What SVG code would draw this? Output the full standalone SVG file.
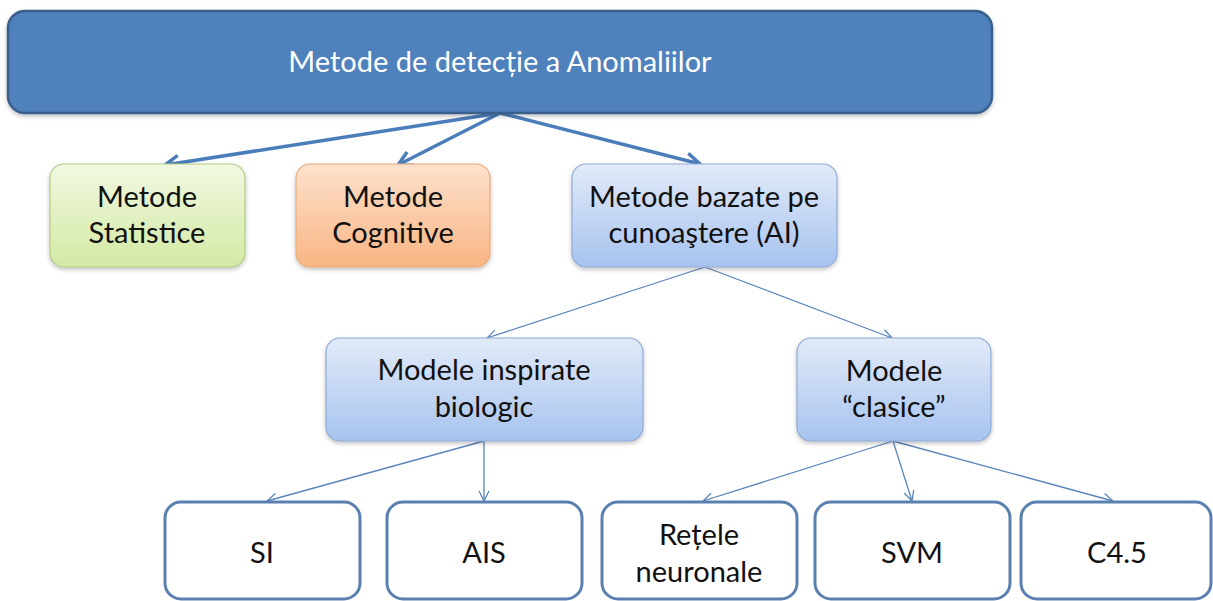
<svg xmlns="http://www.w3.org/2000/svg" width="1213" height="601" viewBox="0 0 1213 601">
<defs>
<style>
text{font-family:Lato,"Open Sans","Liberation Sans",sans-serif;fill:#111;text-anchor:middle}
.t{font-size:29px}
.title{font-size:29px;fill:#fff}
.thick{stroke:#4a7dba;stroke-width:3.5;fill:none;marker-end:url(#ah)}
.thin{stroke:#5a84bb;stroke-width:1.3;fill:none;marker-end:url(#ahs)}
.leaf{fill:#fff;stroke:#5a80b0;stroke-width:3}
</style>
<linearGradient id="gG" x1="0" y1="0" x2="0" y2="1"><stop offset="0" stop-color="#f1f8e2"/><stop offset="1" stop-color="#d3e9a3"/></linearGradient>
<linearGradient id="gO" x1="0" y1="0" x2="0" y2="1"><stop offset="0" stop-color="#fde1cc"/><stop offset="1" stop-color="#f8b583"/></linearGradient>
<linearGradient id="gB" x1="0" y1="0" x2="0" y2="1"><stop offset="0" stop-color="#e2eaf8"/><stop offset="1" stop-color="#a7c3ef"/></linearGradient>
<filter id="sh" x="-10%" y="-10%" width="120%" height="130%"><feDropShadow dx="0" dy="2" stdDeviation="2" flood-color="#000" flood-opacity="0.25"/></filter>
<marker id="ah" markerUnits="userSpaceOnUse" markerWidth="20" markerHeight="20" viewBox="0 0 20 20" refX="17" refY="10" orient="auto"><path d="M3,2.5 L17,10 L3,17.5" fill="none" stroke="#4a7dba" stroke-width="3.5" stroke-linejoin="miter"/></marker>
<marker id="ahs" markerUnits="userSpaceOnUse" markerWidth="14" markerHeight="14" viewBox="0 0 14 14" refX="12" refY="7" orient="auto"><path d="M2,2 L12,7 L2,12" fill="none" stroke="#5a84bb" stroke-width="1.3"/></marker>
</defs>
<rect width="1213" height="601" fill="#fff"/>
<g id="connectors">
<line class="thick" x1="500" y1="113" x2="165" y2="165"/>
<line class="thick" x1="500" y1="113" x2="398" y2="165"/>
<line class="thick" x1="500" y1="113" x2="700" y2="164"/>
<line class="thin" x1="705" y1="267" x2="487" y2="338"/>
<line class="thin" x1="705" y1="267" x2="892" y2="338"/>
<line class="thin" x1="484" y1="441" x2="267" y2="501"/>
<line class="thin" x1="484" y1="441" x2="484" y2="501"/>
<line class="thin" x1="893" y1="441" x2="703" y2="501"/>
<line class="thin" x1="893" y1="441" x2="912" y2="501"/>
<line class="thin" x1="893" y1="441" x2="1113" y2="501"/>
</g>
<g id="root">
<rect x="8" y="11" width="984" height="102" rx="17" fill="#4f81bd" stroke="#3a5f8c" stroke-width="2.5" filter="url(#sh)"/>
<text class="title" x="500" y="72">Metode de detecție a Anomaliilor</text>
</g>
<g id="statistice">
<rect x="50" y="164" width="195" height="103" rx="14" fill="url(#gG)" stroke="#b2cc84" stroke-width="1.2" filter="url(#sh)"/>
<text class="t" x="147" y="207">Metode</text><text class="t" x="147" y="243">Statistice</text>
</g>
<g id="cognitive">
<rect x="296" y="164" width="194" height="103" rx="14" fill="url(#gO)" stroke="#e9ac7c" stroke-width="1.2" filter="url(#sh)"/>
<text class="t" x="393" y="207">Metode</text><text class="t" x="393" y="243">Cognitive</text>
</g>
<g id="ai">
<rect x="572" y="164" width="265" height="103" rx="14" fill="url(#gB)" stroke="#8fabd6" stroke-width="1.2" filter="url(#sh)"/>
<text class="t" x="704" y="207">Metode bazate pe</text><text class="t" x="704" y="243">cunoaştere (AI)</text>
</g>
<g id="inspirate">
<rect x="326" y="338" width="317" height="103" rx="14" fill="url(#gB)" stroke="#8fabd6" stroke-width="1.2" filter="url(#sh)"/>
<text class="t" x="484" y="380">Modele inspirate</text><text class="t" x="484" y="417">biologic</text>
</g>
<g id="clasice">
<rect x="797" y="338" width="194" height="103" rx="14" fill="url(#gB)" stroke="#8fabd6" stroke-width="1.2" filter="url(#sh)"/>
<text class="t" x="894" y="381">Modele</text><text class="t" x="894" y="417">“clasice”</text>
</g>
<g id="si"><rect class="leaf" x="165" y="502" width="195" height="97" rx="16"/><text class="t" x="262" y="563">SI</text></g>
<g id="ais"><rect class="leaf" x="387" y="502" width="195" height="97" rx="16"/><text class="t" x="484" y="563">AIS</text></g>
<g id="retele"><rect class="leaf" x="602" y="502" width="195" height="97" rx="16"/><text class="t" x="699" y="545">Rețele</text><text class="t" x="699" y="582">neuronale</text></g>
<g id="svm"><rect class="leaf" x="815" y="502" width="195" height="97" rx="16"/><text class="t" x="912" y="563">SVM</text></g>
<g id="c45"><rect class="leaf" x="1021" y="502" width="190" height="97" rx="16"/><text class="t" x="1117" y="563">C4.5</text></g>
</svg>
